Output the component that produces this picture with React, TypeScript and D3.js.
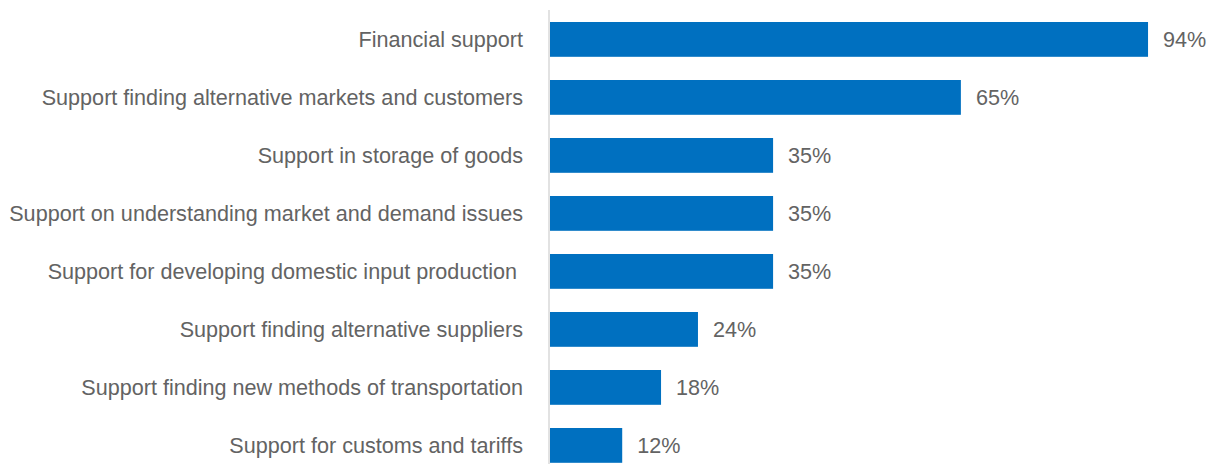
import React from "react";
import * as d3 from "d3";

const categories = [
  "Financial support",
  "Support finding alternative markets and customers",
  "Support in storage of goods",
  "Support on understanding market and demand issues",
  "Support for developing domestic input production ",
  "Support finding alternative suppliers",
  "Support finding new methods of transportation",
  "Support for customs and tariffs",
];
const values = [94.1, 64.7, 35.2, 35.2, 35.2, 23.4, 17.6, 11.5];
const valueLabels = ["94%", "65%", "35%", "35%", "35%", "24%", "18%", "12%"];

const W = 1216;
const H = 464;
const axisX = 549;
const FONT = "'Liberation Sans', Arial, Helvetica, sans-serif";

export default function App() {
  const x = d3.scaleLinear().domain([0, 100]).range([axisX, axisX + 636.6]);
  const y = d3
    .scaleBand<string>()
    .domain(categories)
    .range([10.4, 10.4 + 8 * 58])
    .paddingInner(0.4)
    .paddingOuter(0.2);

  return (
    <svg
      width={W}
      height={H}
      style={{ position: "absolute", left: 0, top: 0, display: "block" }}
    >
      <rect width={W} height={H} fill="#ffffff" />
      {categories.map((c, i) => {
        const yy = y(c)!;
        const bw = y.bandwidth();
        return (
          <g key={c}>
            <rect
              x={x(0) + 1}
              y={yy}
              width={x(values[i]) - x(0) - 1}
              height={bw}
              fill="#0070C0"
            />
            <text
              x={axisX - 26}
              y={yy + bw / 2}
              textAnchor="end"
              dominantBaseline="central"
              fontFamily={FONT}
              fontSize={21.6}
              fill="#636363"
              style={{ whiteSpace: "pre" }}
            >
              {c}
            </text>
            <text
              x={x(values[i]) + 15}
              y={yy + bw / 2}
              textAnchor="start"
              dominantBaseline="central"
              fontFamily={FONT}
              fontSize={21.6}
              fill="#636363"
            >
              {valueLabels[i]}
            </text>
          </g>
        );
      })}
      <line
        x1={axisX}
        x2={axisX}
        y1={10}
        y2={H}
        stroke="#d9d9d9"
        strokeWidth={1.5}
      />
    </svg>
  );
}
